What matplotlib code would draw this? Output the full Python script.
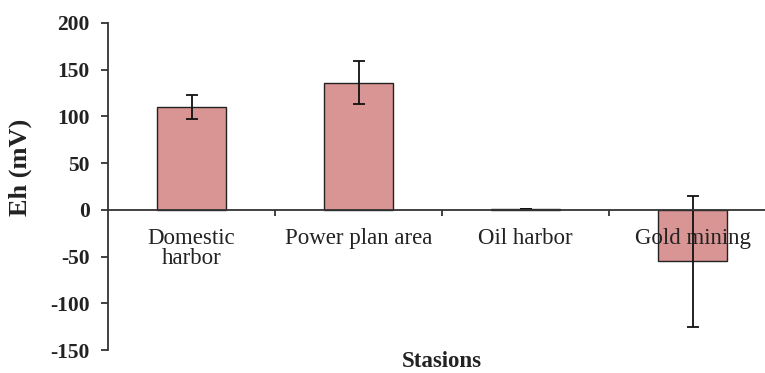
import numpy as np
from matplotlib import pyplot as plt

# Redox potential by sampling station
stations = ["Domestic\nharbor", "Power plan area", "Oil harbor", "Gold mining"]
eh_mean = [110, 136, 1, -55]
eh_err = [13, 23, 0, 70]
y_ticks = [-150, -100, -50, 0, 50, 100, 150, 200]

plt.rcParams["font.family"] = ["Liberation Serif", "DejaVu Serif"]

fig = plt.figure(figsize=(7.65, 3.73), dpi=100)
# axes run slightly past the right edge of the figure
ax = fig.add_axes([108 / 765, 1 - 350 / 373, 668 / 765, 327 / 373])

x = np.arange(len(stations))
ax.bar(
    x,
    eh_mean,
    width=0.41,
    color="#d99594",
    edgecolor="#222222",
    linewidth=1.0,
    yerr=eh_err,
    error_kw=dict(ecolor="#111111", elinewidth=1.3, capsize=4, capthick=1.3, zorder=2),
    zorder=1,
)

ax.set_xlim(-0.5, len(stations) - 0.5)
ax.set_ylim(-150, 200)
ax.set_yticks(y_ticks)
ax.set_yticklabels([str(v) for v in y_ticks], fontsize=15.5, fontweight="bold", color="#222222")

# category labels sit under the zero line, tick marks between categories
ax.spines["bottom"].set_position(("data", 0))
ax.spines["top"].set_visible(False)
ax.spines["right"].set_visible(False)
for side in ("left", "bottom"):
    ax.spines[side].set_color("#333333")
    ax.spines[side].set_linewidth(1.3)
ax.set_xticks(x)
ax.set_xticklabels(stations, fontsize=16.5, color="#222222", linespacing=0.95)
ax.tick_params(axis="x", which="major", length=0, pad=13)
ax.set_xticks(np.arange(0.5, len(stations) - 0.5), minor=True)
ax.tick_params(axis="x", which="minor", length=4, width=1.3, color="#333333")
ax.tick_params(axis="y", length=5, width=1.3, color="#333333", pad=8)

fig.text(442 / 765, 1 - 367 / 373, "Stasions", ha="center", va="baseline",
         fontsize=16.5, fontweight="bold", color="#222222")
fig.text(20 / 765, 1 - 167 / 373, "Eh (mV)", ha="center", va="center",
         rotation=90, fontsize=19, fontweight="bold", color="#222222")

fig.savefig("out.png", dpi=100)
